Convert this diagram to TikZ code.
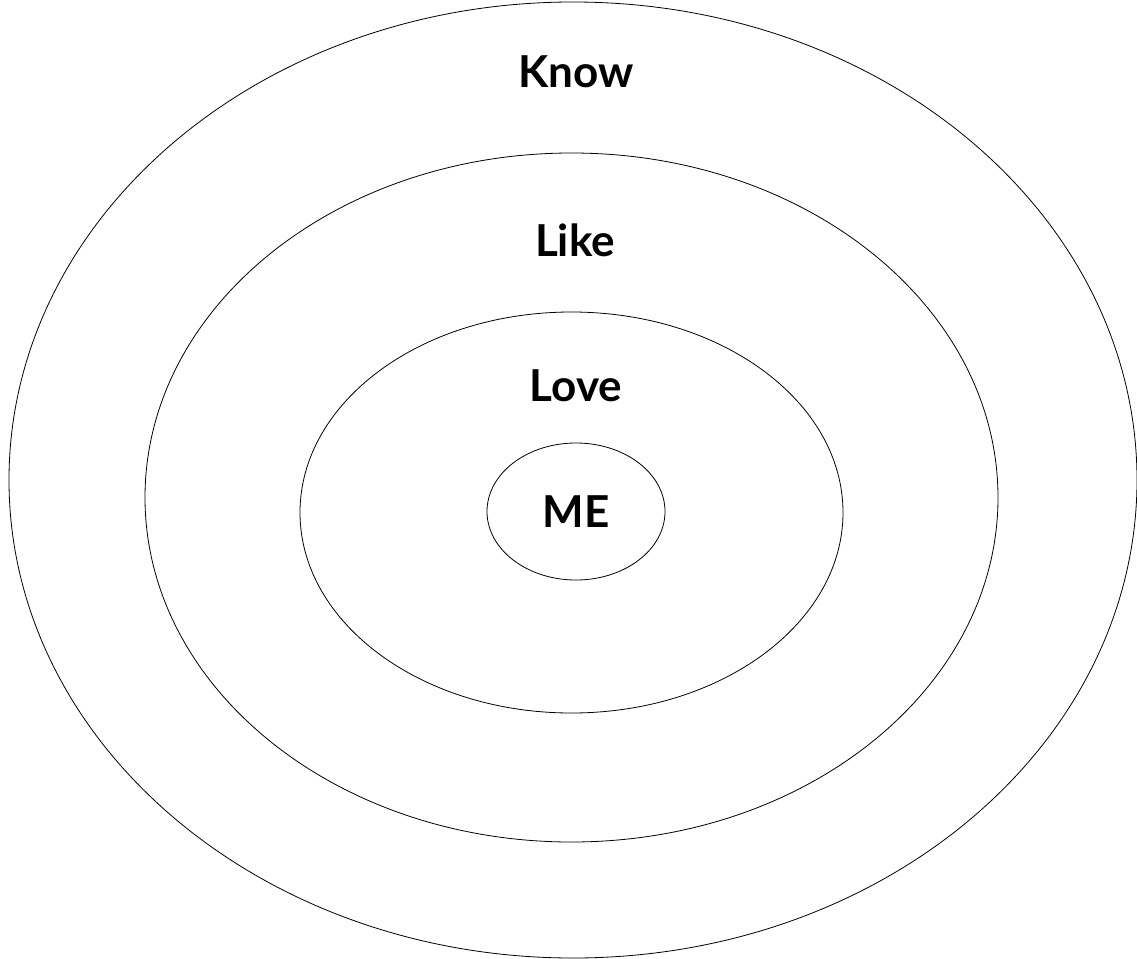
\documentclass[tikz,border=0pt]{standalone}
\usepackage{fontspec}
\setmainfont{Lato}
\usetikzlibrary{shapes.geometric}

\begin{document}
\begin{tikzpicture}[x=1pt, y=-1pt,
      ring/.style={draw, ellipse, line width=0.8pt, inner sep=0pt},
      lbl/.style={anchor=base, font=\fontsize{44}{50}\selectfont\bfseries}]

    \useasboundingbox (0,0) rectangle (1137,958);

    % rings, outside in
    \node[ring, minimum width=1128pt, minimum height=956pt] (know) at (573,480) {};
    \node[ring, minimum width=853pt, minimum height=689pt] (like) at (571.5,497.5) {};
    \node[ring, minimum width=543pt, minimum height=401pt] (love) at (571.5,512.5) {};
    \node[ring, minimum width=178pt, minimum height=137pt] (me) at (576,511.5) {};

    % labels
    \node[lbl] (knowlbl) at (576,88) {Know};
    \node[lbl] (likelbl) at (575,256) {Like};
    \node[lbl] (lovelbl) at (576,401) {Love};
    \node[lbl] (melbl) at (576,527) {ME};
  \end{tikzpicture}
\end{document}
